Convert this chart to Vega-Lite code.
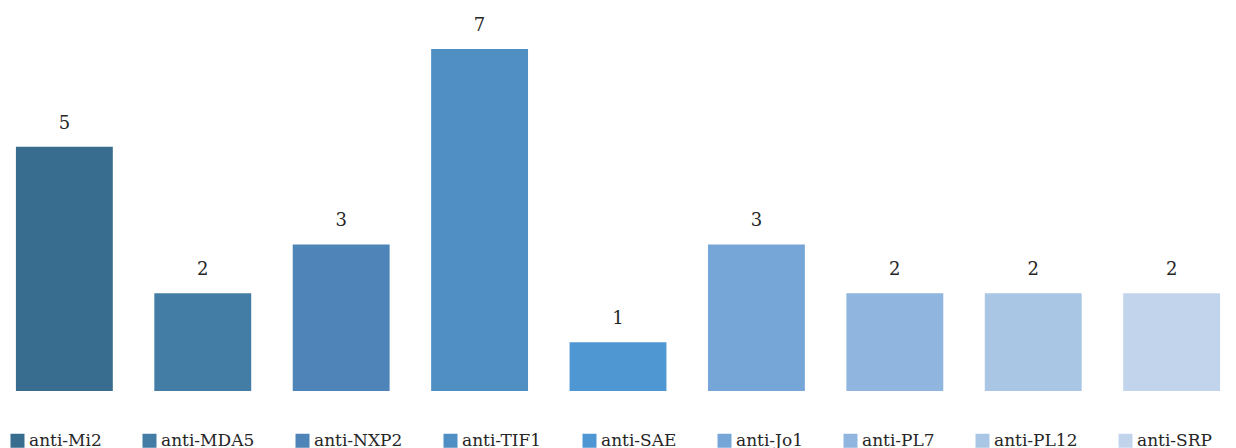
{
  "$schema": "https://vega.github.io/schema/vega-lite/v6.json",
  "width": 1236,
  "height": 391,
  "padding": 0,
  "autosize": {"type": "pad"},
  "background": "white",
  "config": {"view": {"stroke": null}, "font": "DejaVu Serif"},
  "data": {"values": [
    {"antibody": "anti-Mi2", "count": 5},
    {"antibody": "anti-MDA5", "count": 2},
    {"antibody": "anti-NXP2", "count": 3},
    {"antibody": "anti-TIF1", "count": 7},
    {"antibody": "anti-SAE", "count": 1},
    {"antibody": "anti-Jo1", "count": 3},
    {"antibody": "anti-PL7", "count": 2},
    {"antibody": "anti-PL12", "count": 2},
    {"antibody": "anti-SRP", "count": 2}
  ]},
  "encoding": {
    "x": {"field": "antibody", "type": "nominal", "sort": null,
          "scale": {"paddingInner": 0.3, "paddingOuter": 0.115}, "axis": null},
    "y": {"field": "count", "type": "quantitative", "scale": {"domain": [0, 8], "nice": false}, "axis": null}
  },
  "layer": [
    {"mark": {"type": "bar"},
     "encoding": {
       "color": {"field": "antibody", "type": "nominal", "sort": null,
         "scale": {
           "domain": ["anti-Mi2","anti-MDA5","anti-NXP2","anti-TIF1","anti-SAE","anti-Jo1","anti-PL7","anti-PL12","anti-SRP"],
           "range": ["#386d8f","#437ca4","#4f84b8","#4f8fc4","#4f97d2","#76a6d8","#90b5de","#a9c6e4","#c2d4ec"]},
         "legend": {"orient": "none", "legendX": 9, "legendY": 432, "direction": "horizontal", "columns": 9,
           "title": null, "padding": 0, "symbolType": "square", "symbolSize": 196, "symbolStrokeWidth": 0,
           "labelFont": "DejaVu Serif", "labelFontSize": 17, "labelColor": "#262626", "labelOffset": 3,
           "columnPadding": 39, "labelLimit": 300}}
     }},
    {"mark": {"type": "text", "baseline": "bottom", "dy": -14, "font": "DejaVu Serif", "fontSize": 18, "color": "#262626"},
     "encoding": {"text": {"field": "count", "type": "quantitative"}}}
  ]
}
